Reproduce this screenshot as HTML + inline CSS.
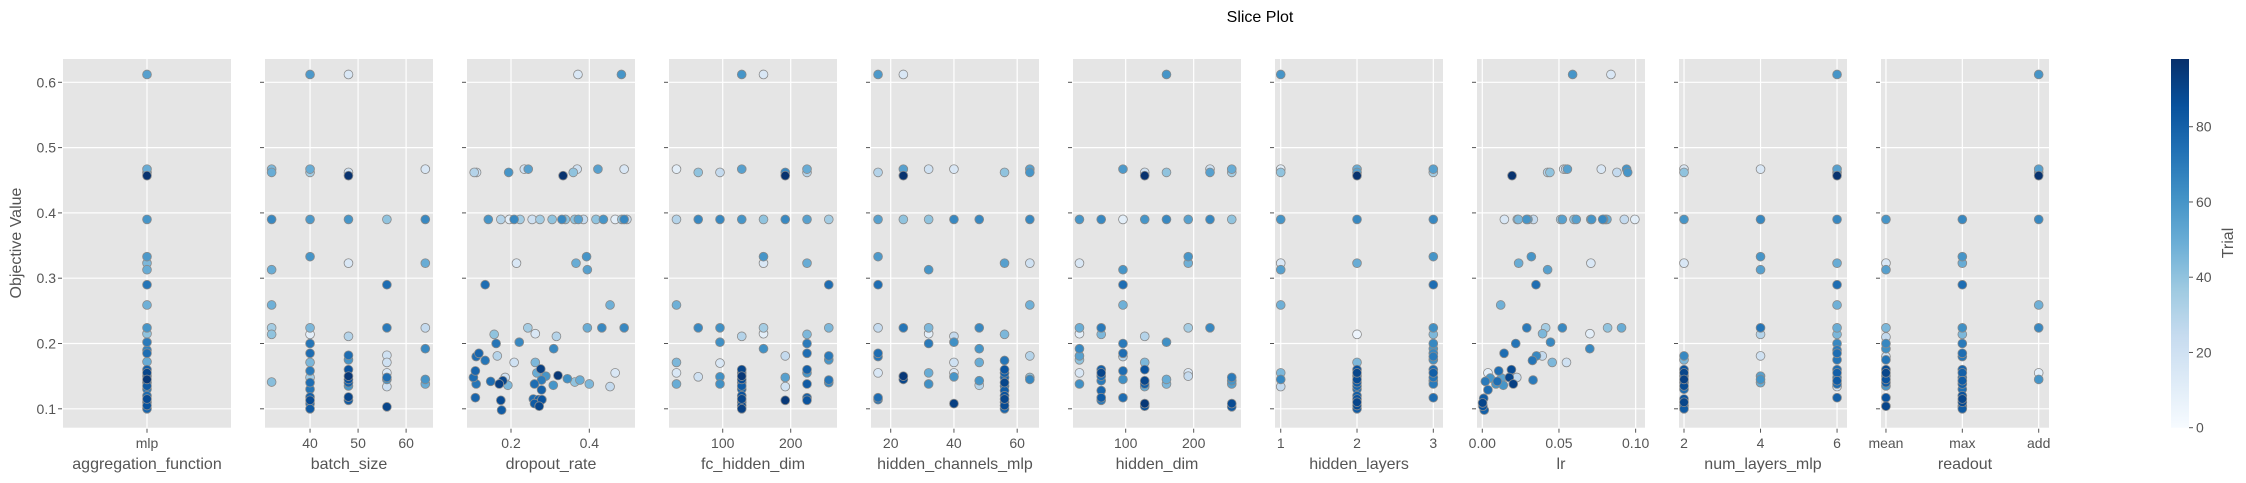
<!DOCTYPE html>
<html><head><meta charset="utf-8"><style>
html,body{margin:0;padding:0;background:#fff;}
svg{display:block;font-family:"Liberation Sans","DejaVu Sans",sans-serif;}
</style></head><body>
<svg id="chart" width="2246" height="483" viewBox="0 0 2246 483"></svg>
<script>
// ---- data ----
const trialMax = 98;
const yTicks = [0.1,0.2,0.3,0.4,0.5,0.6];
const cbTicks = [0,20,40,60,80];
const paramNames = ["aggregation_function","batch_size","dropout_rate","fc_hidden_dim","hidden_channels_mlp","hidden_dim","hidden_layers","lr","num_layers_mlp","readout"];
const aggCategories = ["mlp"];
const readoutCategories = ["mean","max","add"];
const tickBatch = [40,50,60];
const tickDropout = [0.2,0.4];
const tickFc = [100,200];
const tickHc = [20,40,60];
const tickHd = [100,200];
const tickHl = [1,2,3];
const tickLr = [0.00,0.05,0.10];
const tickLrLabels = ["0.00","0.05","0.10"];
const tickNl = [2,4,6];

const aggPoints = [["mlp",.612,55],["mlp",.467,50],["mlp",.462,45],["mlp",.457,97],["mlp",.39,60],["mlp",.333,58],["mlp",.323,45],["mlp",.313,50],["mlp",.29,72],["mlp",.259,48],["mlp",.224,60],["mlp",.215,40],["mlp",.202,70],["mlp",.19,68],["mlp",.185,75],["mlp",.172,50],["mlp",.16,80],["mlp",.155,90],["mlp",.15,85],["mlp",.145,95],["mlp",.14,78],["mlp",.135,82],["mlp",.13,70],["mlp",.12,75],["mlp",.115,88],["mlp",.11,80],["mlp",.105,85],["mlp",.1,78]];
const batchPoints = [[32,.467,45],[32,.462,50],[32,.39,65],[32,.313,50],[32,.259,48],[32,.224,35],[32,.214,40],[32,.141,42],
[40,.612,58],[40,.467,50],[40,.462,35],[40,.39,58],[40,.333,60],[40,.224,45],[40,.214,10],[40,.2,72],[40,.185,75],[40,.171,45],[40,.158,70],[40,.148,35],[40,.14,75],[40,.13,72],[40,.118,80],[40,.113,88],[40,.108,75],[40,.1,82],
[48,.612,15],[48,.462,20],[48,.457,97],[48,.39,60],[48,.323,15],[48,.211,30],[48,.182,75],[48,.175,60],[48,.16,85],[48,.15,95],[48,.145,85],[48,.14,80],[48,.135,60],[48,.118,90],[48,.113,82],
[56,.39,40],[56,.29,75],[56,.224,70],[56,.182,20],[56,.171,20],[56,.155,15],[56,.148,75],[56,.145,60],[56,.134,20],[56,.103,90],
[64,.467,15],[64,.39,65],[64,.323,50],[64,.224,25],[64,.192,65],[64,.145,60],[64,.138,50]];
const dropoutPoints = [[0.371,.612,15],[0.482,.612,60],[0.106,.462,30],[0.112,.462,20],[0.194,.462,60],[0.234,.467,20],[0.244,.467,55],[0.333,.457,97],[0.359,.462,40],[0.369,.467,20],[0.422,.467,55],[0.489,.467,15],
[0.142,.39,60],[0.174,.39,30],[0.196,.39,10],[0.208,.39,65],[0.223,.39,35],[0.254,.39,20],[0.274,.39,35],[0.305,.39,40],[0.330,.39,65],[0.339,.39,40],[0.363,.39,40],[0.372,.39,55],[0.385,.39,25],[0.417,.39,40],[0.436,.39,60],[0.466,.39,10],[0.483,.39,40],[0.489,.39,65],[0.496,.39,25],
[0.214,.323,15],[0.366,.323,50],[0.393,.333,60],[0.395,.313,55],[0.134,.29,75],[0.453,.259,48],[0.243,.224,35],[0.395,.224,50],[0.432,.224,65],[0.489,.224,65],[0.157,.214,40],[0.262,.215,15],[0.316,.211,30],[0.162,.2,72],[0.221,.202,65],[0.309,.192,65],
[0.111,.18,75],[0.118,.185,78],[0.134,.174,72],[0.165,.181,30],[0.208,.171,20],[0.262,.171,45],[0.109,.158,78],[0.104,.148,75],[0.111,.138,72],[0.148,.142,75],[0.170,.138,92],[0.179,.143,90],[0.185,.148,20],[0.192,.136,45],[0.109,.117,78],[0.174,.113,88],[0.176,.098,82],
[0.26,.138,75],[0.266,.155,50],[0.276,.161,92],[0.278,.144,70],[0.289,.15,60],[0.278,.129,80],[0.257,.115,75],[0.27,.114,80],[0.26,.108,82],[0.272,.104,90],[0.279,.114,85],[0.308,.136,60],[0.320,.151,95],[0.344,.146,62],[0.363,.141,40],[0.376,.144,50],[0.4,.138,45],[0.453,.134,25],[0.466,.155,15]];
const fcPoints = [[32,.467,10],[32,.39,30],[32,.259,48],[32,.171,45],[32,.155,15],[32,.138,50],
[64,.462,40],[64,.39,65],[64,.224,65],[64,.149,20],
[96,.462,25],[96,.39,65],[96,.224,62],[96,.202,62],[96,.17,15],[96,.149,62],[96,.138,62],
[128,.612,60],[128,.467,55],[128,.39,60],[128,.211,30],[128,.16,90],[128,.155,85],[128,.15,95],[128,.145,88],[128,.14,80],[128,.135,82],[128,.13,78],[128,.12,85],[128,.115,90],[128,.11,80],[128,.105,88],[128,.1,92],
[160,.612,15],[160,.39,40],[160,.333,60],[160,.323,15],[160,.224,35],[160,.215,10],[160,.192,62],
[192,.462,65],[192,.457,97],[192,.39,65],[192,.181,25],[192,.148,55],[192,.134,20],[192,.113,95],
[224,.467,50],[224,.462,30],[224,.39,55],[224,.323,50],[224,.214,45],[224,.2,70],[224,.185,75],[224,.16,80],[224,.155,60],[224,.138,82],[224,.117,80],[224,.113,85],
[256,.39,35],[256,.29,75],[256,.224,45],[256,.181,70],[256,.175,60],[256,.144,72],[256,.14,65]];
const hcPoints = [[16,.612,58],[16,.462,30],[16,.39,55],[16,.333,58],[16,.29,75],[16,.224,25],[16,.185,75],[16,.18,72],[16,.155,15],[16,.117,75],[16,.114,72],
[24,.612,15],[24,.467,55],[24,.457,97],[24,.39,40],[24,.224,72],[24,.15,95],[24,.145,90],
[32,.467,20],[32,.39,40],[32,.313,60],[32,.224,45],[32,.215,10],[32,.2,70],[32,.155,50],[32,.138,62],
[40,.467,15],[40,.39,65],[40,.211,25],[40,.202,62],[40,.171,20],[40,.155,15],[40,.149,60],[40,.108,92],
[48,.39,65],[48,.224,65],[48,.192,60],[48,.171,50],[48,.143,60],[48,.136,30],
[56,.462,40],[56,.323,55],[56,.214,45],[56,.174,72],[56,.16,85],[56,.155,80],[56,.148,78],[56,.14,90],[56,.135,75],[56,.128,82],[56,.12,85],[56,.115,90],[56,.11,80],[56,.105,88],[56,.1,78],
[64,.467,55],[64,.462,60],[64,.39,65],[64,.323,20],[64,.259,48],[64,.181,30],[64,.148,40],[64,.145,65]];
const hdPoints = [[32,.39,60],[32,.323,15],[32,.224,50],[32,.215,10],[32,.192,65],[32,.181,55],[32,.175,40],[32,.155,15],[32,.138,62],
[64,.39,65],[64,.224,70],[64,.214,45],[64,.16,80],[64,.155,90],[64,.15,75],[64,.143,70],[64,.128,78],[64,.117,82],[64,.113,70],
[96,.467,58],[96,.39,10],[96,.313,60],[96,.29,75],[96,.259,48],[96,.2,70],[96,.185,75],[96,.18,30],[96,.158,75],[96,.145,62],[96,.117,75],
[128,.462,20],[128,.457,97],[128,.39,60],[128,.211,30],[128,.171,45],[128,.16,85],[128,.143,90],[128,.138,80],[128,.134,50],[128,.108,95],[128,.104,85],
[160,.612,60],[160,.462,40],[160,.39,65],[160,.202,62],[160,.145,50],[160,.138,45],
[192,.39,55],[192,.333,60],[192,.323,48],[192,.224,35],[192,.155,15],[192,.15,25],
[224,.467,20],[224,.462,55],[224,.39,65],[224,.224,65],
[256,.467,50],[256,.462,35],[256,.39,40],[256,.148,70],[256,.143,60],[256,.138,55],[256,.108,88],[256,.103,82]];
const hlPoints = [[1,.612,60],[1,.467,10],[1,.462,40],[1,.39,60],[1,.323,15],[1,.313,55],[1,.259,48],[1,.155,45],[1,.145,65],[1,.134,25],
[2,.467,50],[2,.462,55],[2,.457,97],[2,.39,65],[2,.323,50],[2,.214,5],[2,.171,45],[2,.16,85],[2,.155,90],[2,.15,80],[2,.145,88],[2,.14,82],[2,.135,78],[2,.13,75],[2,.12,80],[2,.115,85],[2,.11,90],[2,.105,88],[2,.1,82],
[3,.467,55],[3,.462,35],[3,.39,65],[3,.333,60],[3,.29,75],[3,.224,62],[3,.214,45],[3,.2,65],[3,.192,60],[3,.185,65],[3,.18,70],[3,.175,62],[3,.16,75],[3,.155,80],[3,.148,72],[3,.143,65],[3,.138,70],[3,.117,75]];
const lrPoints = [[0.0589,.612,60],[0.0839,.612,15],[0.0194,.457,97],[0.0426,.462,30],[0.0441,.462,40],[0.0531,.467,15],[0.0544,.467,20],[0.0555,.467,55],[0.0776,.467,15],[0.0878,.462,25],[0.0941,.467,60],[0.0948,.462,60],
[0.0144,.39,15],[0.0228,.39,40],[0.0235,.39,45],[0.0289,.39,60],[0.0298,.39,55],[0.0333,.39,25],[0.0511,.39,35],[0.0522,.39,55],[0.0598,.39,40],[0.0613,.39,55],[0.0707,.39,40],[0.0713,.39,60],[0.0785,.39,65],[0.0791,.39,60],[0.0803,.39,40],[0.0813,.39,50],[0.0926,.39,25],[0.0995,.39,10],
[0.0237,.323,50],[0.0320,.333,60],[0.0426,.313,55],[0.0708,.323,15],[0.035,.29,75],[0.012,.259,48],[0.029,.224,70],[0.0413,.224,35],[0.0393,.215,45],[0.0522,.224,65],[0.0702,.215,10],[0.0817,.224,40],[0.0908,.224,50],
[0.0218,.2,72],[0.0445,.202,65],[0.0701,.192,65],[0.0142,.185,75],[0.0391,.181,25],[0.0353,.181,65],[0.0327,.174,72],[0.0456,.171,45],[0.0549,.171,20],
[0.0037,.155,10],[0.0107,.158,75],[0.019,.16,88],[0.0225,.148,25],[0.0331,.144,70],[0.002,.142,70],[0.0052,.147,60],[0.0089,.138,60],[0.0137,.136,60],[0.0176,.148,90],[0.0202,.138,92],[0.0037,.129,75],[0.0009,.116,82],[0.0002,.109,90],[0.0004,.104,85],[0.0013,.098,80],[0.0098,.142,75],[0.0126,.147,55]];
const nlPoints = [[2,.467,15],[2,.462,40],[2,.39,60],[2,.323,15],[2,.181,65],[2,.175,45],[2,.16,85],[2,.155,90],[2,.15,80],[2,.145,92],[2,.14,78],[2,.135,88],[2,.13,75],[2,.115,85],[2,.11,90],[2,.105,80],[2,.1,82],
[4,.467,15],[4,.39,65],[4,.333,60],[4,.313,55],[4,.224,72],[4,.214,30],[4,.181,20],[4,.15,55],[4,.145,60],[4,.14,50],
[6,.612,60],[6,.467,55],[6,.462,50],[6,.457,97],[6,.39,65],[6,.323,50],[6,.29,75],[6,.259,48],[6,.224,50],[6,.214,45],[6,.2,65],[6,.19,70],[6,.185,75],[6,.175,72],[6,.16,75],[6,.155,80],[6,.148,70],[6,.143,82],[6,.138,75],[6,.134,20],[6,.117,80]];
const readoutPoints = [["mean",.39,60],["mean",.323,15],["mean",.313,55],["mean",.224,45],["mean",.21,25],["mean",.2,65],["mean",.192,62],["mean",.18,20],["mean",.175,72],["mean",.16,88],["mean",.155,90],["mean",.15,80],["mean",.145,85],["mean",.14,82],["mean",.135,60],["mean",.117,85],["mean",.104,90],
["max",.39,65],["max",.333,60],["max",.323,50],["max",.29,75],["max",.224,62],["max",.214,45],["max",.2,70],["max",.185,75],["max",.18,72],["max",.16,78],["max",.155,80],["max",.148,75],["max",.143,82],["max",.138,80],["max",.13,75],["max",.12,85],["max",.115,90],["max",.11,88],["max",.104,80],["max",.1,82],
["add",.612,60],["add",.467,55],["add",.462,50],["add",.457,97],["add",.39,65],["add",.259,48],["add",.224,65],["add",.155,10],["add",.145,60]];

// ---- layout ----
const NS = "http://www.w3.org/2000/svg";
const svg = document.getElementById('chart');
const plotTop = 59, plotBottom = 427.7, panelW = 168, pitch = 202, firstLeft = 63;
const yAt0 = 82.3, yPerUnit = 653; // px per 1.0
function yScale(v){ return yAt0 + (0.6 - v) * yPerUnit; }
const yMin = 0.6 - (plotBottom - yAt0) / yPerUnit;
const yMax = 0.6 + (yAt0 - plotTop) / yPerUnit;

const panels = [
  {pts: aggPoints, dom: [-0.5, 0.5], cats: aggCategories, ticks: [0], labels: aggCategories},
  {pts: batchPoints, dom: [30.62, 65.6], ticks: tickBatch, labels: tickBatch.map(String)},
  {pts: dropoutPoints, dom: [0.0876, 0.5167], ticks: tickDropout, labels: tickDropout.map(v=>v.toFixed(1))},
  {pts: fcPoints, dom: [21.0, 268.1], ticks: tickFc, labels: tickFc.map(String)},
  {pts: hcPoints, dom: [13.77, 66.9], ticks: tickHc, labels: tickHc.map(String)},
  {pts: hdPoints, dom: [22.5, 269.6], ticks: tickHd, labels: tickHd.map(String)},
  {pts: hlPoints, dom: [0.925, 3.127], ticks: tickHl, labels: tickHl.map(String)},
  {pts: lrPoints, dom: [-0.00345, 0.1061], ticks: tickLr, labels: tickLrLabels},
  {pts: nlPoints, dom: [1.869, 6.26], ticks: tickNl, labels: tickNl.map(String)},
  {pts: readoutPoints, dom: [-0.065, 2.135], cats: readoutCategories, ticks: [0,1,2], labels: readoutCategories}
];

const blues = [[247,251,255],[222,235,247],[198,219,239],[158,202,225],[107,174,214],[66,146,198],[33,113,181],[8,81,156],[8,48,107]];
function bluesColor(t){
  const f = Math.max(0, Math.min(1, t / trialMax)) * (blues.length - 1);
  const i = Math.min(blues.length - 2, Math.floor(f)), r = f - i;
  const c = blues[i].map((v,k)=>Math.round(v + (blues[i+1][k]-v)*r));
  return `rgb(${c[0]},${c[1]},${c[2]})`;
}
function mk(tag, attrs, parent){
  const e = document.createElementNS(NS, tag);
  for (const k in attrs) e.setAttribute(k, attrs[k]);
  (parent || svg).appendChild(e);
  return e;
}

// title
const title = mk('text', {x: 1260, y: 22, 'text-anchor': 'middle', 'font-size': 16, fill: '#000'});


title.textContent = 'Slice Plot';

const ytitle = mk('text', {x: 0, y: 0, 'text-anchor': 'middle', 'font-size': 16, fill: '#555', transform: 'translate(21,243) rotate(-90)'});


ytitle.textContent = 'Objective Value';

panels.forEach((p, i) => {
  const left = firstLeft + pitch * i;
  const g = mk('g', {});
  
  
  const xs = v => left + (v - p.dom[0]) / (p.dom[1] - p.dom[0]) * panelW;
  const bg = mk('rect', {x: left, y: plotTop, width: panelW, height: plotBottom - plotTop, fill: '#e5e5e5'}, g);
  
  
  // horizontal grid + y ticks
  yTicks.forEach(v => {
    const y = yScale(v);
    if (y < plotTop || y > plotBottom) return;
    const gl = mk('line', {x1: left, x2: left + panelW, y1: y, y2: y, stroke: '#fff', 'stroke-width': 1.2}, g);
    
    
    const tk = mk('line', {x1: left - 5, x2: left - 1, y1: y, y2: y, stroke: '#555', 'stroke-width': 1}, g);
    
    
    if (i === 0) {
      const tl = mk('text', {x: left - 7, y: y + 5, 'text-anchor': 'end', 'font-size': 14, fill: '#555'}, g);
      
      
      tl.textContent = v.toFixed(1);
    }
  });
  // vertical grid + x ticks
  p.ticks.forEach((v, k) => {
    const x = xs(v);
    const gl = mk('line', {x1: x, x2: x, y1: plotTop, y2: plotBottom, stroke: '#fff', 'stroke-width': 1.2}, g);
    
    
    const tk = mk('line', {x1: x, x2: x, y1: plotBottom + 1, y2: plotBottom + 5, stroke: '#555', 'stroke-width': 1}, g);
    
    
    const tl = mk('text', {x: x, y: 448, 'text-anchor': 'middle', 'font-size': 14, fill: '#555'}, g);
    
    
    tl.textContent = p.labels[k];
  });
  const xl = mk('text', {x: left + panelW / 2, y: 469, 'text-anchor': 'middle', 'font-size': 16, fill: '#555'}, g);
  
  
  xl.textContent = paramNames[i];
  // points
  const pts = p.pts.slice().sort((a, b) => a[2] - b[2]);
  pts.forEach(d => {
    const xv = p.cats ? p.cats.indexOf(d[0]) : d[0];
    const c = mk('circle', {cx: xs(xv), cy: yScale(d[1]), r: 4.4, fill: bluesColor(d[2]), stroke: '#8a8a8a', 'stroke-width': 0.8}, g);
    
    
  });
});

// colorbar
const cbX = 2171, cbW = 18;
const defs = mk('defs', {});
const grad = mk('linearGradient', {id: 'cbgrad', x1: 0, y1: 1, x2: 0, y2: 0}, defs);
blues.forEach((c, k) => mk('stop', {offset: (k / (blues.length - 1)).toFixed(3), 'stop-color': `rgb(${c[0]},${c[1]},${c[2]})`}, grad));
const cbar = mk('rect', {x: cbX, y: plotTop, width: cbW, height: plotBottom - plotTop, fill: 'url(#cbgrad)'});


const cbY = t => plotBottom - t / trialMax * (plotBottom - plotTop);
cbTicks.forEach(t => {
  const y = cbY(t);
  const tk = mk('line', {x1: cbX + cbW, x2: cbX + cbW + 4, y1: y, y2: y, stroke: '#555', 'stroke-width': 1});
  
  
  const tl = mk('text', {x: cbX + cbW + 7, y: y + 5, 'font-size': 14, fill: '#555'});
  
  
  tl.textContent = String(t);
});
const cbt = mk('text', {x: 0, y: 0, 'text-anchor': 'middle', 'font-size': 16, fill: '#555', transform: 'translate(2233,243) rotate(-90)'});


cbt.textContent = 'Trial';
</script>
</body></html>
